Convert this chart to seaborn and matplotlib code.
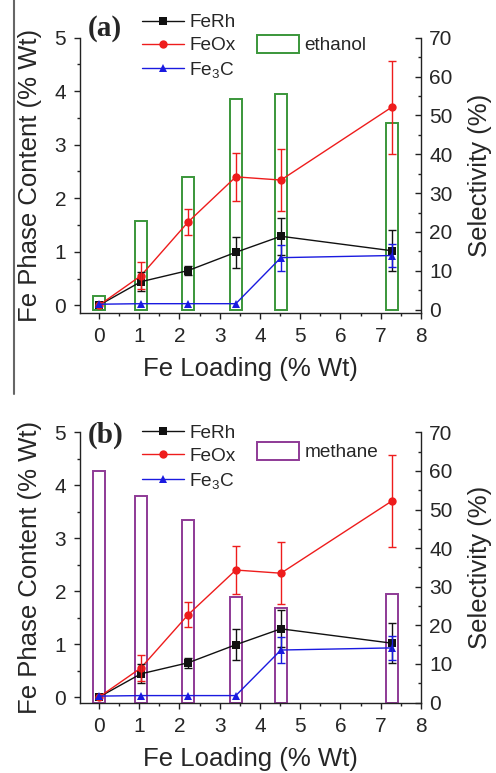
import numpy as np
import pandas as pd
import matplotlib
matplotlib.use("Agg")
import matplotlib.pyplot as plt
import seaborn as sns
from matplotlib.lines import Line2D
from matplotlib.ticker import MultipleLocator

# ---------------- data ----------------
loading = [0.0, 1.04, 2.22, 3.40, 4.52, 7.27]
phases = ["FeRh", "FeOx", "Fe$_3$C"]
ferh = [0.0, 0.44, 0.65, 0.99, 1.29, 1.02]
ferh_err = [0.0, 0.18, 0.09, 0.29, 0.35, 0.38]
feox = [0.0, 0.55, 1.56, 2.40, 2.34, 3.70]
feox_err = [0.0, 0.25, 0.24, 0.45, 0.58, 0.87]
fe3c = [0.02, 0.03, 0.03, 0.03, 0.89, 0.93]
fe3c_err = [0.0, 0.0, 0.0, 0.0, 0.24, 0.22]
ethanol = [3.5, 22.9, 34.2, 54.1, 55.5, 48.1]
methane = [60.1, 53.4, 47.3, 27.3, 24.4, 28.0]
x_ticks = [0, 1, 2, 3, 4, 5, 6, 7, 8]
left_ticks = [0, 1, 2, 3, 4, 5]
right_ticks = [0, 10, 20, 30, 40, 50, 60, 70]

colors = {"FeRh": "#111111", "FeOx": "#ee1c1c", "Fe$_3$C": "#1a1ae0"}
markers = {"FeRh": "s", "FeOx": "o", "Fe$_3$C": "^"}

sns.set_style("ticks")
plt.rcParams["font.family"] = ["Liberation Sans", "DejaVu Sans"]
plt.rcParams["mathtext.fontset"] = "custom"
plt.rcParams["mathtext.rm"] = "Liberation Sans"
plt.rcParams["mathtext.it"] = "Liberation Sans:italic"
plt.rcParams["mathtext.bf"] = "Liberation Sans:bold"

W, H = 496, 773
fig = plt.figure(figsize=(W / 100, H / 100), dpi=100)

long = pd.DataFrame({
    "loading": loading * 3,
    "value": ferh + feox + fe3c,
    "phase": ["FeRh"] * 6 + ["FeOx"] * 6 + ["Fe$_3$C"] * 6,
})
errs = {"FeRh": (ferh, ferh_err), "FeOx": (feox, feox_err), "Fe$_3$C": (fe3c, fe3c_err)}


def px(x, y):
    return (x / W, 1 - y / H)


def panel(rect, bars, bar_color, bar_label, tag, ylim_l, ylim_r, tag_y, leg_top, barleg_top):
    ax = fig.add_axes(rect)
    ax2 = ax.twinx()
    ax2.bar(loading, bars, width=0.3, fill=False, edgecolor=bar_color,
            linewidth=1.4, label=bar_label)
    ax.set_zorder(ax2.get_zorder() + 1)
    ax.patch.set_visible(False)

    sns.lineplot(data=long, x="loading", y="value", hue="phase", style="phase",
                 palette=colors, markers=markers, dashes=False, markersize=6,
                 markeredgewidth=0, linewidth=1.0, legend=False, ax=ax)
    for ph in phases:
        vals, e = errs[ph]
        idx = [i for i in range(6) if e[i] > 0]
        ax.errorbar([loading[i] for i in idx], [vals[i] for i in idx],
                    yerr=[e[i] for i in idx], fmt="none", ecolor=colors[ph],
                    elinewidth=1.0, capsize=3, capthick=1.0)

    ax.set_xlim(-0.47, 8)
    ax.set_ylim(*ylim_l)
    ax2.set_ylim(*ylim_r)
    ax.set_xticks(x_ticks)
    ax.set_yticks(left_ticks)
    ax2.set_yticks(right_ticks)
    ax.xaxis.set_minor_locator(MultipleLocator(0.5))
    ax.yaxis.set_minor_locator(MultipleLocator(0.5))
    ax2.yaxis.set_minor_locator(MultipleLocator(5))

    for a in (ax, ax2):
        a.spines["top"].set_visible(False)
        for s in a.spines.values():
            s.set_linewidth(1.0)
            s.set_color("#222222")
    ax.spines["right"].set_visible(False)
    ax2.spines["left"].set_visible(False)
    ax2.spines["bottom"].set_visible(False)

    ax.tick_params(axis="both", which="major", direction="out", length=4,
                   width=1, labelsize=15, pad=6, color="#222222")
    ax.tick_params(axis="both", which="minor", direction="out", length=2.5,
                   width=1, color="#222222")
    ax2.tick_params(axis="y", which="major", direction="in", length=4,
                    width=1, labelsize=15, pad=6, color="#222222")
    ax2.tick_params(axis="y", which="minor", direction="in", length=2.5,
                    width=1, color="#222222")

    ax.set_xlabel("Fe Loading (% Wt)", fontsize=18.5, labelpad=8)
    ax.set_ylabel("Fe Phase Content (% Wt)", fontsize=18.5, labelpad=9)
    ax2.set_ylabel("Selectivity (%)", fontsize=18.5, labelpad=11)

    fig.text(*px(88, tag_y), tag, fontsize=21, fontweight="bold",
             family="Liberation Serif", va="center", ha="left")

    handles = [Line2D([], [], color=colors[p], marker=markers[p], ms=6,
                      mew=0, lw=1.0) for p in phases]
    ax.legend(handles, phases, loc="upper left",
              bbox_to_anchor=px(141.7, leg_top), bbox_transform=fig.transFigure,
              frameon=False, fontsize=13.7, handlelength=2.2,
              handletextpad=0.3, labelspacing=0.3, borderpad=0,
              borderaxespad=0)
    ax2.legend(loc="upper left", bbox_to_anchor=px(257, barleg_top),
               bbox_transform=fig.transFigure, frameon=False, fontsize=13.7,
               handlelength=2.2, handleheight=1.05, handletextpad=0.3,
               borderpad=0, borderaxespad=0)
    return ax, ax2


panel([80 / W, 1 - 313 / H, 341 / W, (313 - 37.7) / H], ethanol, "#3a963a",
      "ethanol", "(a)", (-0.144, 5), (-0.85, 70), 28, 14, 35)
panel([80 / W, 1 - 703 / H, 341 / W, (703 - 432.3) / H], methane, "#8e3a96",
      "methane", "(b)", (-0.11, 5), (-0.1, 70), 435, 424.5, 442)

fig.add_artist(Line2D([13.7 / W, 13.7 / W], [1, 1 - 394 / H],
                      transform=fig.transFigure, color="#666666", lw=1.5))

fig.savefig("out.png", dpi=100)
